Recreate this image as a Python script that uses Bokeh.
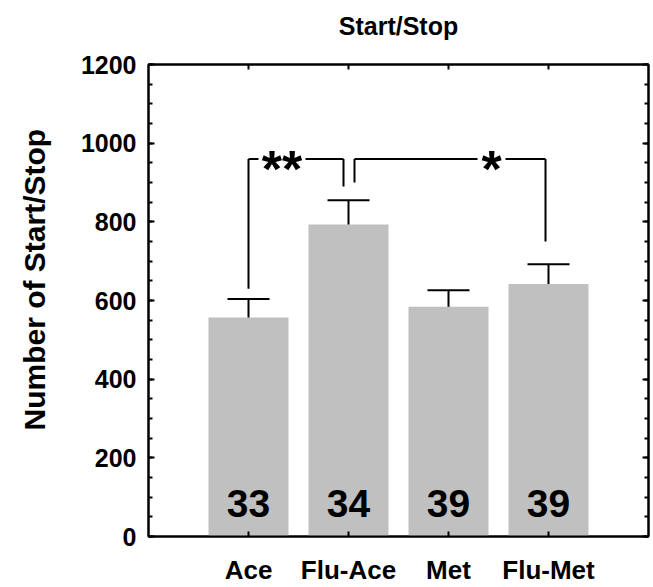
from bokeh.plotting import figure
from bokeh.models import LinearAxis, FixedTicker, Range1d, ColumnDataSource, CustomJSTickFormatter
from bokeh.embed import file_html
from bokeh.resources import INLINE
from bokeh.core.properties import value

# ---- data ----
categories = ["Ace", "Flu-Ace", "Met", "Flu-Met"]
means = [557, 793, 584, 642]
sem = [47, 62, 42, 50]
n_labels = ["33", "34", "39", "39"]
y_ticks = [0, 200, 400, 600, 800, 1000, 1200]

# significance brackets: (left category index, right category index), drop ends, label
bracket_pairs = [(0, 1), (1, 3)]
bracket_height = 960
bracket_drops = [(630, 890), (900, 750)]
bracket_labels = ["**", "*"]

FONT = "Liberation Sans"
xs = [i + 1 for i in range(len(categories))]
tops = [m + s for m, s in zip(means, sem)]

p = figure(width=653, height=587, x_range=Range1d(0, 5), y_range=Range1d(0, 1200),
           output_backend="svg", toolbar_location=None,
           min_border_left=148, min_border_right=5, min_border_top=64, min_border_bottom=46)
p.background_fill_color = "white"
p.border_fill_color = "white"
p.outline_line_color = "black"
p.outline_line_width = 2
p.xgrid.visible = False
p.ygrid.visible = False

src = ColumnDataSource(dict(x=xs, top=means, err=tops, n=n_labels))
p.vbar(x="x", top="top", width=0.8, source=src, fill_color="#c0c0c0", line_color=None)
p.segment(x0="x", y0="top", x1="x", y1="err", source=src, line_color="black", line_width=2)
cap = 0.21
p.segment(x0=[x - cap for x in xs], y0=tops, x1=[x + cap for x in xs], y1=tops,
          line_color="black", line_width=2)
p.text(x="x", y=0, text="n", source=src, text_font=value(FONT), text_font_style="bold",
       text_font_size="39px", text_align="center", text_baseline="alphabetic", y_offset=-33,
       text_color="black")

# brackets
for (a, b), (da, db), lab in zip(bracket_pairs, bracket_drops, bracket_labels):
    xa = xs[a] + (0.06 if a == 1 else 0)
    xb = xs[b] - (0.05 if b == 1 else 0) - (0.03 if b == 3 else 0)
    if lab == "**":
        xm, half = xa + 0.335, 0.235
    else:
        xm, half = xa + 1.37, 0.14
    p.segment(x0=[xa, xa, xm + half, xb], y0=[da, bracket_height, bracket_height, bracket_height],
              x1=[xa, xm - half, xb, xb], y1=[bracket_height, bracket_height, bracket_height, db],
              line_color="black", line_width=2)
    p.text(x=[xm], y=[bracket_height], text=[lab], text_font=value(FONT), text_font_style="bold",
           text_font_size="52px", text_align="center", text_baseline="alphabetic", y_offset=10,
           text_color="black")

# axes
left = p.yaxis[0]
left.ticker = FixedTicker(ticks=y_ticks, minor_ticks=list(range(0, 1201, 50)))
left.axis_label = "\u00a0\u00a0\u00a0\u00a0\u00a0Number of Start/Stop"
left.axis_label_text_font = FONT
left.axis_label_text_font_style = "bold"
left.axis_label_text_font_size = "30px"
left.axis_label_text_color = "black"
left.axis_label_standoff = 27
left.major_label_text_font = FONT
left.major_label_text_font_style = "bold"
left.major_label_text_font_size = "25px"
left.major_label_text_color = "black"
left.major_label_standoff = 12
left.axis_line_width = 2
left.major_tick_in = 6
left.major_tick_out = 0
left.minor_tick_in = 4
left.minor_tick_out = 0
left.major_tick_line_width = 2
left.minor_tick_line_width = 2

bottom = p.xaxis[0]
bottom.ticker = FixedTicker(ticks=xs)
bottom.major_label_overrides = {x: c for x, c in zip(xs, categories)}
bottom.major_label_text_font = FONT
bottom.major_label_text_font_style = "bold"
bottom.major_label_text_font_size = "26px"
bottom.major_label_text_color = "black"
bottom.major_label_standoff = 18
bottom.axis_line_width = 2
bottom.major_tick_in = 5
bottom.major_tick_out = 0
bottom.major_tick_line_width = 2
bottom.minor_tick_line_color = None

blank = CustomJSTickFormatter(code="return ''")
right = LinearAxis(ticker=FixedTicker(ticks=y_ticks, minor_ticks=list(range(0, 1201, 50))),
                   formatter=blank, major_label_standoff=0, major_label_text_font_size="0px",
                   axis_label_standoff=0, axis_line_width=2,
                   major_tick_in=6, major_tick_out=0, minor_tick_in=4, minor_tick_out=0,
                   major_tick_line_width=2, minor_tick_line_width=2)
p.add_layout(right, "right")
# top axis carries the chart title as its label
top_ax = LinearAxis(ticker=FixedTicker(ticks=xs), formatter=blank, major_label_text_font_size="0px",
                    major_label_standoff=0, axis_line_width=2,
                    major_tick_in=5, major_tick_out=0,
                    major_tick_line_width=2, minor_tick_line_color=None,
                    axis_label="Start/Stop", axis_label_text_font=FONT,
                    axis_label_text_font_style="bold", axis_label_text_font_size="25px",
                    axis_label_text_color="black", axis_label_standoff=25)
p.add_layout(top_ax, "above")

open("out.html", "w").write(file_html(p, INLINE))
